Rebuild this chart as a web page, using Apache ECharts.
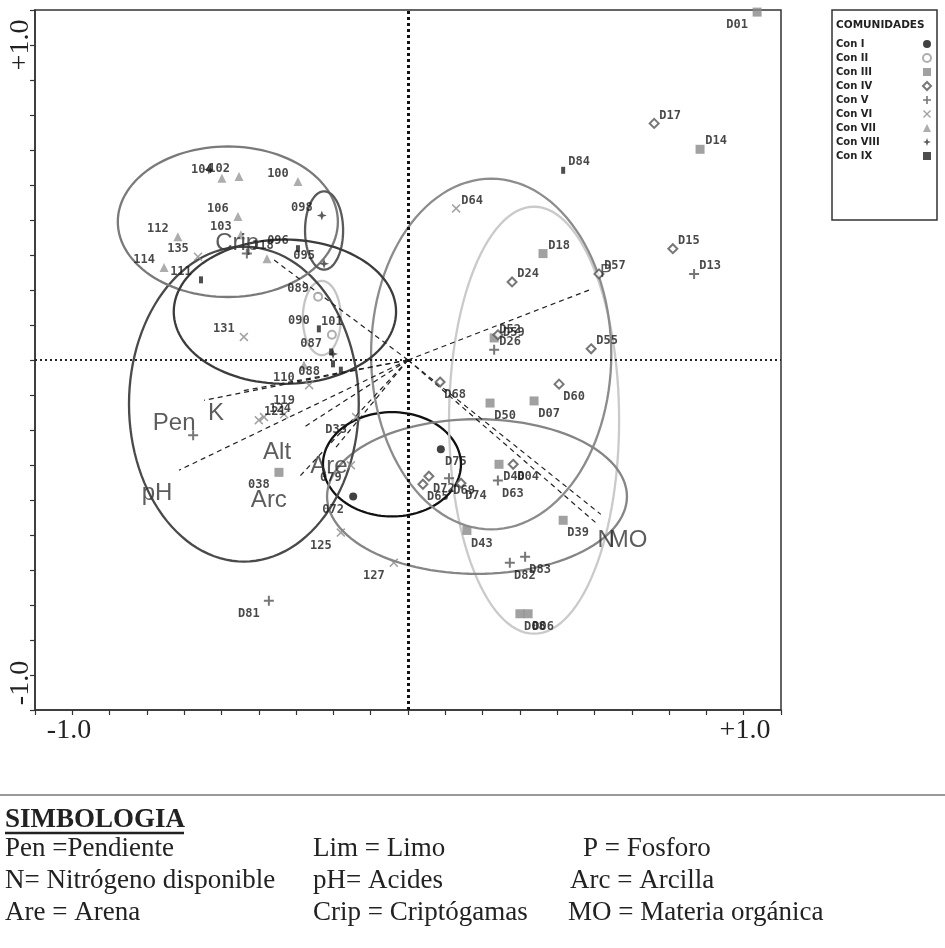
<!DOCTYPE html>
<html><head><meta charset="utf-8">
<script src="https://cdn.jsdelivr.net/npm/echarts@6/dist/echarts.min.js"></script>
<style>html,body{margin:0;padding:0;background:#fff;}#c{width:945px;height:948px;}</style>
</head><body><div id="c"></div>
<script>
// ---------- DATA ----------
const comunidades = ['Con I','Con II','Con III','Con IV','Con V','Con VI','Con VII','Con VIII','Con IX'];
const conI = [[0.088,-0.255,'D75'],[-0.147,-0.390,'072']];
const conII = [[-0.241,0.181,'089'],[-0.204,0.072,'101']];
const conIII = [[0.936,0.994,'D01'],[0.783,0.602,'D14'],[0.362,0.304,'D18'],[0.231,0.063,'D52'],[0.220,-0.123,'D50'],[0.338,-0.117,'D07'],[0.244,-0.298,'D40'],[0.158,-0.487,'D43'],[0.416,-0.458,'D39'],[0.300,-0.725,'D08'],[0.322,-0.725,'D06'],[-0.346,-0.321,'038']];
const conIV = [[0.660,0.676,'D17'],[0.710,0.318,'D15'],[0.512,0.246,'D57'],[0.279,0.223,'D24'],[0.241,0.072,'D59'],[0.491,0.032,'D55'],[0.086,-0.063,'D68'],[0.405,-0.069,'D60'],[0.282,-0.298,'D04'],[0.040,-0.355,'D65'],[0.056,-0.332,'D72'],[0.142,-0.352,'D74']];
const conV = [[0.767,0.246,'D13'],[0.231,0.029,'D26'],[0.241,-0.344,'D63'],[0.110,-0.338,'D69'],[0.273,-0.579,'D82'],[0.314,-0.562,'D83'],[-0.373,-0.688,'D81'],[-0.576,-0.215,''],[-0.432,0.304,'118']];
const conVI = [[0.129,0.433,'D64'],[-0.563,0.295,'135'],[-0.440,0.066,'131'],[-0.265,-0.072,'088'],[-0.332,-0.155,'119'],[-0.386,-0.163,'124'],[-0.400,-0.172,'121'],[-0.139,-0.163,'D33'],[-0.153,-0.301,'079'],[-0.180,-0.493,'125'],[-0.038,-0.579,'127']];
const conVII = [[-0.499,0.519,'104'],[-0.453,0.524,'102'],[-0.295,0.510,'100'],[-0.456,0.410,'106'],[-0.617,0.352,'112'],[-0.654,0.264,'114'],[-0.448,0.358,'103'],[-0.378,0.289,''],[-0.279,-0.014,'110']];
const conVIII = [[-0.231,0.413,'098'],[-0.225,0.275,'095'],[-0.534,0.544,''],[-0.201,0.017,'']];
const conIX = [[0.416,0.542,'D84'],[-0.555,0.229,'111'],[-0.295,0.318,'096'],[-0.239,0.089,'090'],[-0.206,0.023,'087'],[-0.201,-0.011,''],[-0.180,-0.029,'']];

// confidence ellipses per community: [cx, cy, rx, ry]
const ellipses = [
  [-0.043,-0.298,0.185,0.149],
  [-0.231,0.120,0.051,0.106],
  [0.338,-0.172,0.228,0.610],
  [0.223,0.017,0.322,0.501],
  [0.185,-0.390,0.402,0.221],
  [-0.440,-0.126,0.308,0.450],
  [-0.483,0.395,0.295,0.215],
  [-0.225,0.370,0.051,0.112],
  [-0.330,0.138,0.298,0.206]
];

// environmental vectors
const vecNames = ['K','Pen','pH','Alt','Arc','Are','Crip','P','N','MO'];
const vecX = [-0.547,-0.448,-0.614,-0.279,-0.295,-0.193,-0.367,0.493,0.517,0.509];
const vecY = [-0.115,-0.089,-0.315,-0.192,-0.338,-0.249,0.292,0.203,-0.441,-0.470];
const vecLabX = [-0.515,-0.627,-0.673,-0.351,-0.373,-0.212,-0.458,0.531,0.531,0.590];
const vecLabY = [-0.152,-0.181,-0.381,-0.264,-0.401,-0.304,0.332,0.252,-0.516,-0.516];

const tickLabels = ['-1.0','+1.0'];
const simbologia = [
  ['Pen =Pendiente','Lim = Limo','P = Fosforo'],
  ['N= Nitrógeno disponible','pH= Acides','Arc = Arcilla'],
  ['Are = Arena','Crip = Criptógamas','MO = Materia orgánica']
];

// ---------- STYLE / LAYOUT ----------
const labelDir = {
  'D01':'dl',
  '104':'ul','102':'ul','100':'ul','106':'ul','112':'ul','114':'ul','135':'ul','111':'ul','098':'ul','131':'ul','089':'ul','103':'ul','096':'ul','095':'ul','090':'ul','087':'ul',
  '101':'u','119':'u','088':'u',
  'D68':'dr','D60':'dr','D50':'dr','D07':'dr','D75':'dr','D40':'dr','D04':'dr','D63':'dr','D43':'dr','D39':'dr','D82':'dr','D83':'dr','D08':'dr','D06':'dr','D74':'dr','D69':'dr','D72':'dr','D65':'dr',
  '125':'dl','127':'dl','D81':'dl','038':'dl','072':'dl','079':'dl','D33':'dl','110':'dl',
  'D59':'r'
};
const dirOffset = {ur:[16,-8], ul:[-20,-8], dr:[15,13], dl:[-20,13], u:[0,-13], r:[16,-2]};

const PLUS = 'path://M4,0H6V4H10V6H6V10H4V6H0V4H4Z';
const CROSS = 'path://M1.2,0L5,3.8L8.8,0L10,1.2L6.2,5L10,8.8L8.8,10L5,6.2L1.2,10L0,8.8L3.8,5L0,1.2Z';
const STAR = 'path://M5,0L6.3,3.7L10,5L6.3,6.3L5,10L3.7,6.3L0,5L3.7,3.7Z';
const symStyles = [
  {symbol:'circle', size:8, color:'#111'},
  {symbol:'emptyCircle', size:8, color:'#9a9a9a'},
  {symbol:'rect', size:9, color:'#8a8a8a'},
  {symbol:'emptyDiamond', size:9, color:'#555'},
  {symbol:PLUS, size:10, color:'#555'},
  {symbol:CROSS, size:9, color:'#8a8a8a'},
  {symbol:'triangle', size:9, color:'#999'},
  {symbol:STAR, size:10, color:'#333'},
  {symbol:'rect', size:[4,7], color:'#222'}
];
const ellColors = ['#111','#c4c4c4','#cacaca','#8c8c8c','#858585','#4a4a4a','#7a7a7a','#5a5a5a','#3c3c3c'];
const groups = [conI,conII,conIII,conIV,conV,conVI,conVII,conVIII,conIX];

const series = [];
series.push({
  type:'custom', name:'ellipses', z:2, silent:true,
  data: ellipses, encode:{x:0,y:1},
  renderItem:function(params, api){
    const c = api.coord([api.value(0), api.value(1)]);
    const s = api.size([api.value(2), api.value(3)]);
    const pts = [];
    for (let k=0;k<=120;k++){ const t=k/120*2*Math.PI; pts.push([c[0]+s[0]*Math.cos(t), c[1]+s[1]*Math.sin(t)]); }
    return {type:'polyline', shape:{points:pts}, style:{stroke:ellColors[params.dataIndex], lineWidth:2.3, fill:'none'}};
  }
});
series.push({
  type:'custom', name:'vectors', z:3, silent:true,
  data: vecX.map((x,i)=>[x, vecY[i]]), encode:{x:0,y:1},
  renderItem:function(params, api){
    const o = api.coord([0,0]);
    const e = api.coord([api.value(0), api.value(1)]);
    return {type:'line', shape:{x1:o[0],y1:o[1],x2:e[0],y2:e[1]}, style:{stroke:'#222', lineWidth:1.2, lineDash:[5,4]}};
  }
});
series.push({
  type:'scatter', name:'vecLabels', z:6, silent:true, symbolSize:0,
  data: vecNames.map((n,i)=>({value:[vecLabX[i], vecLabY[i], n], label:{fontSize: n==='P'?18:24}})),
  label:{show:true, position:'inside', formatter:p=>p.value[2], fontFamily:'Liberation Sans', fontSize:24, color:'#333'}
});
groups.forEach((g,i)=>{
  const st = symStyles[i];
  series.push({
    type:'scatter', name:comunidades[i], z:5,
    symbol:st.symbol, symbolSize:st.size,
    itemStyle:{color:st.color, borderColor:st.color, borderWidth: (i===1||i===3)?1.3:0},
    data: g.map(p=>({value:p, label:{offset: dirOffset[labelDir[p[2]]||'ur']}})),
    label:{show:true, position:'inside', formatter:p=>p.value[2], fontFamily:'DejaVu Sans Mono', fontWeight:'bold', fontSize:12, color:'#1a1a1a'},
    markLine: i===0 ? {silent:true, symbol:'none', label:{show:false},
      data:[{xAxis:0, lineStyle:{type:[3,3], width:3, color:'#111'}}, {yAxis:0, lineStyle:{type:[2,3], width:2, color:'#222'}}]} : undefined
  });
});

const graphic = [
  {type:'text', x:21, y:45, rotation:Math.PI/2, style:{text:tickLabels[1], font:'28px "Liberation Serif"', align:'center', verticalAlign:'middle', fill:'#222'}},
  {type:'text', x:21, y:683, rotation:Math.PI/2, style:{text:tickLabels[0], font:'28px "Liberation Serif"', align:'center', verticalAlign:'middle', fill:'#222'}},
  {type:'text', x:69, y:731, style:{text:tickLabels[0], font:'28px "Liberation Serif"', align:'center', verticalAlign:'middle', fill:'#222'}},
  {type:'text', x:745, y:731, style:{text:tickLabels[1], font:'28px "Liberation Serif"', align:'center', verticalAlign:'middle', fill:'#222'}},
  {type:'rect', shape:{x:832,y:10,width:105,height:210}, style:{fill:'#fff', stroke:'#333', lineWidth:1.5}, z:-1},
  {type:'text', x:836, y:25, style:{text:'COMUNIDADES', font:'bold 10.5px "DejaVu Sans"', verticalAlign:'middle', fill:'#222'}},
  {type:'line', shape:{x1:0,y1:795,x2:945,y2:795}, style:{stroke:'#777', lineWidth:1.5}},
  {type:'text', x:5, y:820, style:{text:'SIMBOLOGIA', font:'bold 27px "Liberation Serif"', verticalAlign:'middle', fill:'#222'}},
  {type:'line', shape:{x1:5,y1:833,x2:184,y2:833}, style:{stroke:'#222', lineWidth:2.5}}
];
const colX = [5,313,[583,570,568]];
simbologia.forEach((row,r)=>{
  row.forEach((t,c)=>{
    const x = c===2 ? colX[2][r] : colX[c];
    graphic.push({type:'text', x:x, y:849+r*32, style:{text:t, font:'27px "Liberation Serif"', verticalAlign:'middle', fill:'#222'}});
  });
});

const axisCommon = {
  type:'value', min:-1, max:1, interval:0.1,
  axisLine:{onZero:false, lineStyle:{color:'#333', width:1.5}},
  axisTick:{show:true, inside:false, length:5, lineStyle:{color:'#333', width:1.2}},
  axisLabel:{show:false}, splitLine:{show:false}
};

const chart = echarts.init(document.getElementById('c'));
chart.setOption({
  animation:false,
  backgroundColor:'#fff',
  grid:{left:35, right:164, top:10, bottom:238, show:true, borderColor:'#333', borderWidth:1.5},
  xAxis:Object.assign({}, axisCommon),
  yAxis:Object.assign({}, axisCommon),
  legend:{
    data:comunidades, orient:'vertical', left:831, top:34, align:'right',
    itemWidth:8, itemHeight:8, itemGap:4, selectedMode:false,
    formatter: name => '{a|' + name + '}',
    textStyle:{fontSize:10, fontWeight:'bold', fontFamily:'DejaVu Sans', color:'#222',
      rich:{a:{width:82, align:'left', fontSize:10, lineHeight:9, fontWeight:'bold', fontFamily:'DejaVu Sans', color:'#222'}}}
  },
  graphic:graphic,
  series:series
});
</script></body></html>
